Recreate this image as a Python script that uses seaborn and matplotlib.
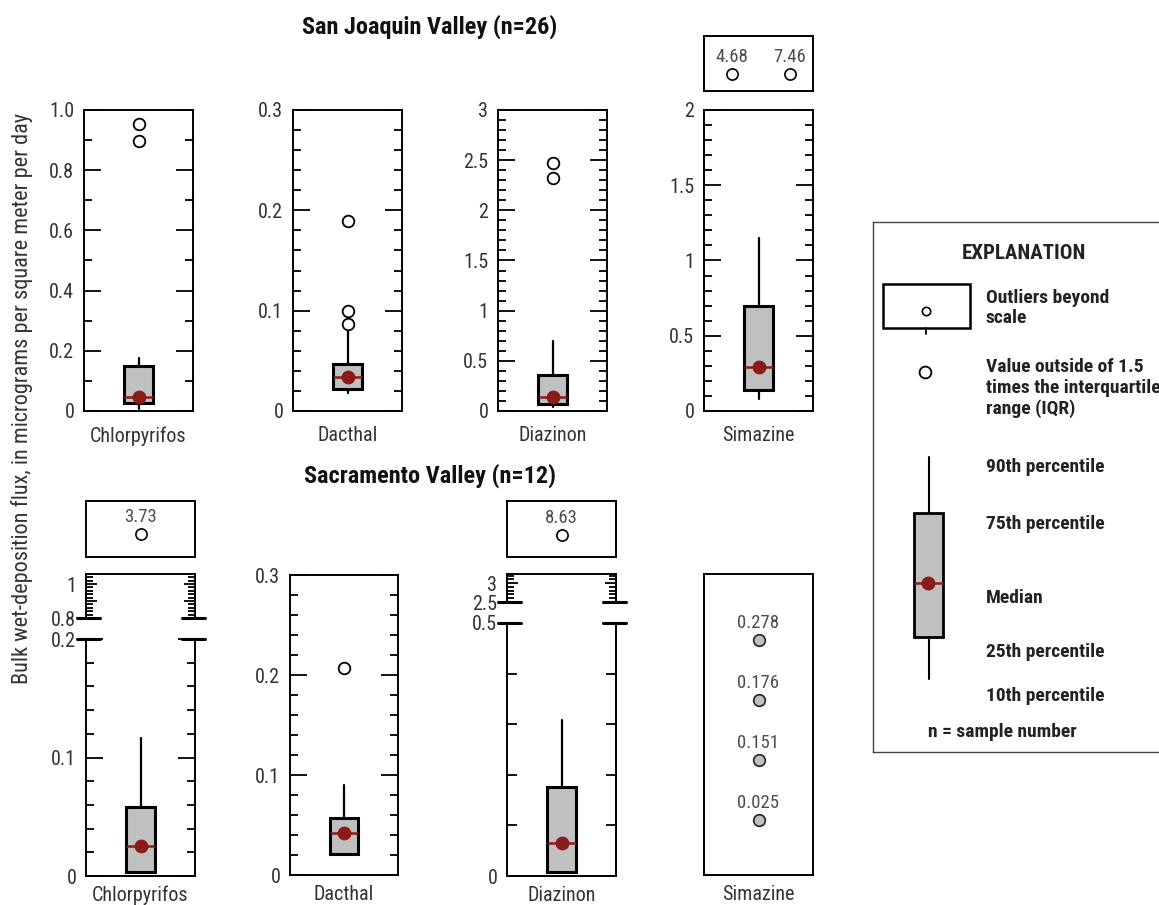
import matplotlib
matplotlib.use("Agg")
import matplotlib.pyplot as plt
from matplotlib import font_manager as fm
from matplotlib.ticker import MultipleLocator, FixedLocator, FixedFormatter
from matplotlib.patches import Rectangle
import seaborn as sns

# ---------------------------------------------------------------- data
compounds = ["Chlorpyrifos", "Dacthal", "Diazinon", "Simazine"]

# San Joaquin Valley (n=26): percentile summaries
sj_p10 = [0.005, 0.018, 0.04, 0.078]
sj_p25 = [0.027, 0.022, 0.07, 0.14]
sj_med = [0.047, 0.034, 0.142, 0.295]
sj_p75 = [0.149, 0.047, 0.357, 0.695]
sj_p90 = [0.176, 0.084, 0.70, 1.152]
sj_outliers = [[0.953, 0.897], [0.189, 0.0995, 0.087], [2.47, 2.32], []]
sj_beyond_simazine = [4.68, 7.46]
sj_ymax = [1.0, 0.3, 3.0, 2.0]
sj_major = [0.2, 0.1, 0.5, 0.5]
sj_minor = [0.1, 0.02, 0.1, 0.1]
sj_ticklabels = [
    ["0", "0.2", "0.4", "0.6", "0.8", "1.0"],
    ["0", "0.1", "0.2", "0.3"],
    ["0", "0.5", "1", "1.5", "2", "2.5", "3"],
    ["0", "0.5", "1", "1.5", "2"],
]

# Sacramento Valley (n=12): Chlorpyrifos, Dacthal, Diazinon
sac_p25 = [0.0034, 0.0206, 0.008]
sac_med = [0.0253, 0.0416, 0.066]
sac_p75 = [0.058, 0.0575, 0.176]
sac_p90 = [0.1165, 0.0898, 0.308]
sac_outliers = [[], [0.207], []]
sac_beyond = [[3.73], [], [8.63]]
sac_simazine = [0.278, 0.176, 0.151, 0.025]

# broken-axis segments for Sacramento Chlorpyrifos and Diazinon
chl_low = (0.0, 0.2)
chl_high = (0.8, 1.059)
dia_low = (0.0, 0.5)
dia_high = (2.5, 3.24)

BOX_FILL = "#c0c0c0"
MED_RED = "#8b1a1a"
W, H = 1159, 905

sns.set_theme(style="white")

# prefer a narrow sans face when one is installed
_fonts = fm.fontManager.ttflist
_names = {f.name for f in _fonts}
_stretch = "normal"
if "Liberation Sans Narrow" in _names:
    _family = "Liberation Sans Narrow"
elif "Roboto Condensed" in _names:
    _family = "Roboto Condensed"
elif any(f.name == "DejaVu Sans" and "condensed" in str(f.stretch) for f in _fonts):
    _family = "DejaVu Sans"
    _stretch = "condensed"
else:
    _family = "Roboto"
plt.rcParams["font.family"] = [_family, "DejaVu Sans"]
plt.rcParams["font.stretch"] = _stretch
plt.rcParams["axes.edgecolor"] = "black"
plt.rcParams["axes.linewidth"] = 1.4
plt.rcParams["ytick.color"] = "black"
plt.rcParams["ytick.labelcolor"] = "#333333"
plt.rcParams["text.color"] = "#222222"

fig = plt.figure(figsize=(W / 100, H / 100), dpi=100)


def px_axes(left, top, right, bottom):
    return fig.add_axes([left / W, 1 - bottom / H, (right - left) / W, (bottom - top) / H])


def draw_box(ax, p10, p25, med, p75, p90):
    stats = [dict(whislo=p10, q1=p25, med=med, q3=p75, whishi=p90, fliers=[])]
    ax.bxp(stats, positions=[0], widths=0.26, showcaps=False, showfliers=False,
           patch_artist=True, manage_ticks=False,
           boxprops=dict(facecolor=BOX_FILL, edgecolor="black", linewidth=2.2),
           whiskerprops=dict(color="black", linewidth=1.6),
           medianprops=dict(color=MED_RED, linewidth=1.8))
    sns.scatterplot(x=[0], y=[med], ax=ax, color=MED_RED, edgecolor=MED_RED,
                    s=85, zorder=5, legend=False)


def draw_outliers(ax, vals):
    if vals:
        sns.scatterplot(x=[0] * len(vals), y=vals, ax=ax, color="white",
                        edgecolor="black", linewidth=1.3, s=70, zorder=6, legend=False)


def y_ticks(ax, major, minor, labels=None, major_len=12, minor_len=6):
    ax.yaxis.set_major_locator(FixedLocator(major))
    ax.yaxis.set_minor_locator(MultipleLocator(minor))
    if labels is not None:
        ax.yaxis.set_major_formatter(FixedFormatter(labels))
    ax.tick_params(axis="y", which="both", direction="in", left=True, right=True,
                   labelleft=True, width=1.3, labelsize=14.5, pad=7)
    ax.tick_params(axis="y", which="major", length=major_len)
    ax.tick_params(axis="y", which="minor", length=minor_len)
    ax.set_xticks([])
    ax.set_xlim(-0.5, 0.5)


def beyond_box(left, top, right, bottom, vals, xs, y_pt, y_txt):
    ax = px_axes(left, top, right, bottom)
    ax.set_xlim(-0.5, 0.5)
    ax.set_ylim(0, 1)
    ax.set_xticks([])
    ax.set_yticks([])
    for v, x in zip(vals, xs):
        sns.scatterplot(x=[x], y=[y_pt], ax=ax, color="white", edgecolor="black",
                        linewidth=1.2, s=65, legend=False)
        ax.text(x, y_txt, f"{v:.2f}", ha="center", va="center", fontsize=13.5, color="#4d4d4d")
    return ax


def break_lines(ax, value):
    for x0, x1 in [(-0.08, 0.13), (0.88, 1.09)]:
        ax.axhline(value, xmin=x0, xmax=x1, color="black", linewidth=2.2, clip_on=False, zorder=10)


LABEL_SIZE = 14.5

# ---------------------------------------------------------------- San Joaquin row
sj_x = [(84, 193), (293, 402), (498, 607), (704, 813)]
for i, name in enumerate(compounds):
    ax = px_axes(sj_x[i][0], 110, sj_x[i][1], 411)
    ax.set_ylim(0, sj_ymax[i])
    draw_box(ax, sj_p10[i], sj_p25[i], sj_med[i], sj_p75[i], sj_p90[i])
    draw_outliers(ax, sj_outliers[i])
    n = len(sj_ticklabels[i])
    y_ticks(ax, [k * sj_major[i] for k in range(n)], sj_minor[i], sj_ticklabels[i])
    ax.set_ylim(0, sj_ymax[i])
    ax.set_xlabel(name, fontsize=LABEL_SIZE, labelpad=11, color="#333333")

beyond_box(704, 36, 813, 91, sj_beyond_simazine, [-0.24, 0.285], 0.31, 0.62)

# ---------------------------------------------------------------- Sacramento row
# Chlorpyrifos (broken axis)
beyond_box(86, 501, 195, 557, sac_beyond[0], [0.0], 0.41, 0.71)
ax_hi = px_axes(86, 574, 195, 618)
ax_hi.set_ylim(*chl_high)
y_ticks(ax_hi, [0.8, 0.9, 1.0], 0.02, ["0.8", "", "1"], major_len=8, minor_len=5)
ax_hi.set_ylim(*chl_high)
ax_hi.spines["bottom"].set_visible(False)
break_lines(ax_hi, chl_high[0])

ax_lo = px_axes(86, 639, 195, 876)
ax_lo.set_ylim(*chl_low)
draw_box(ax_lo, sac_p25[0], sac_p25[0], sac_med[0], sac_p75[0], sac_p90[0])
y_ticks(ax_lo, [0.0, 0.1, 0.2], 0.02, ["0", "0.1", "0.2"])
ax_lo.set_ylim(*chl_low)
ax_lo.spines["top"].set_visible(False)
break_lines(ax_lo, chl_low[1])
ax_lo.set_xlabel(compounds[0], fontsize=LABEL_SIZE, labelpad=7, color="#333333")

# Dacthal
ax = px_axes(290, 575, 398, 875)
ax.set_ylim(0, 0.3)
draw_box(ax, sac_p25[1], sac_p25[1], sac_med[1], sac_p75[1], sac_p90[1])
draw_outliers(ax, sac_outliers[1])
y_ticks(ax, [0.0, 0.1, 0.2, 0.3], 0.02, ["0", "0.1", "0.2", "0.3"])
ax.set_ylim(0, 0.3)
ax.set_xlabel(compounds[1], fontsize=LABEL_SIZE, labelpad=7, color="#333333")

# Diazinon (broken axis)
beyond_box(507, 501, 616, 557, sac_beyond[2], [0.0], 0.4, 0.69)
ax_hi = px_axes(507, 574, 616, 602)
ax_hi.set_ylim(*dia_high)
y_ticks(ax_hi, [2.5, 3.0], 0.1, ["2.5", "3"], major_len=8, minor_len=5)
ax_hi.set_ylim(*dia_high)
ax_hi.spines["bottom"].set_visible(False)
break_lines(ax_hi, dia_high[0])

ax_lo = px_axes(507, 623, 616, 876)
ax_lo.set_ylim(*dia_low)
draw_box(ax_lo, sac_p25[2], sac_p25[2], sac_med[2], sac_p75[2], sac_p90[2])
y_ticks(ax_lo, [0.0, 0.5], 0.1, ["0", "0.5"], major_len=7, minor_len=7)
ax_lo.set_ylim(*dia_low)
ax_lo.spines["top"].set_visible(False)
break_lines(ax_lo, dia_low[1])
ax_lo.set_xlabel(compounds[2], fontsize=LABEL_SIZE, labelpad=7, color="#333333")

# Simazine: individual values listed in rank order
ax = px_axes(704, 574, 813, 875)
ranks = list(range(len(sac_simazine)))[::-1]
sns.scatterplot(x=[0] * len(sac_simazine), y=ranks, ax=ax, color=BOX_FILL,
                edgecolor="#222222", linewidth=1.2, s=70, legend=False)
for v, r in zip(sac_simazine, ranks):
    ax.annotate(f"{v:.3f}", (0, r), xytext=(0, 12), textcoords="offset points",
                ha="center", va="center", fontsize=13.5, color="#4d4d4d")
ax.set_xlim(-0.5, 0.5)
ax.set_ylim(-0.92, 4.1)
ax.set_xticks([])
ax.set_yticks([])
ax.set_xlabel(compounds[3], fontsize=LABEL_SIZE, labelpad=7, color="#333333")

# ---------------------------------------------------------------- titles and axis label
fig.text(430 / W, 1 - 27 / H, "San Joaquin Valley (n=26)", ha="center", va="center",
         fontsize=17.5, fontweight="bold", color="#111111")
fig.text(430 / W, 1 - 476 / H, "Sacramento Valley (n=12)", ha="center", va="center",
         fontsize=17.5, fontweight="bold", color="#111111")
fig.text(22 / W, 1 - 398 / H, "Bulk wet-deposition flux, in micrograms per square meter per day",
         rotation=90, ha="center", va="center", fontsize=16, color="#333333")

# ---------------------------------------------------------------- explanation panel
lg = px_axes(873, 222, 1180, 752)
lg.set_xlim(873, 1180)
lg.set_ylim(752, 222)
lg.set_xticks([])
lg.set_yticks([])
for s in lg.spines.values():
    s.set_linewidth(1.0)
    s.set_edgecolor("#444444")
lg.text(1024, 253, "EXPLANATION", ha="center", va="center", fontsize=15, fontweight="bold")
lg.add_patch(Rectangle((883, 284), 87, 44, fill=False, edgecolor="black", linewidth=1.8))
lg.plot([926, 926], [328, 334], color="black", linewidth=1.3)
lg.plot([926], [311], marker="o", ms=6, mfc="white", mec="black", mew=1.2)
lg.plot([925], [372], marker="o", ms=8.5, mfc="white", mec="black", mew=1.3)
lg.bxp([dict(whislo=679, q1=637, med=583, q3=513, whishi=457, fliers=[])],
       positions=[928.5], widths=29, showcaps=False, showfliers=False,
       patch_artist=True, manage_ticks=False,
       boxprops=dict(facecolor=BOX_FILL, edgecolor="black", linewidth=2.0),
       whiskerprops=dict(color="black", linewidth=1.5),
       medianprops=dict(color=MED_RED, linewidth=1.8))
lg.plot([928], [583], marker="o", ms=9, color=MED_RED)
legend_txt = dict(fontsize=14, fontweight="bold", ha="left", va="center", linespacing=1.15)
lg.text(986, 308, "Outliers beyond\nscale", **legend_txt)
lg.text(986, 388, "Value outside of 1.5\ntimes the interquartile\nrange (IQR)", **legend_txt)
lg.text(986, 467, "90th percentile", **legend_txt)
lg.text(986, 524, "75th percentile", **legend_txt)
lg.text(986, 598, "Median", **legend_txt)
lg.text(986, 652, "25th percentile", **legend_txt)
lg.text(986, 696, "10th percentile", **legend_txt)
lg.text(928, 732, "n = sample number", **legend_txt)

fig.savefig("out.png", dpi=100)
